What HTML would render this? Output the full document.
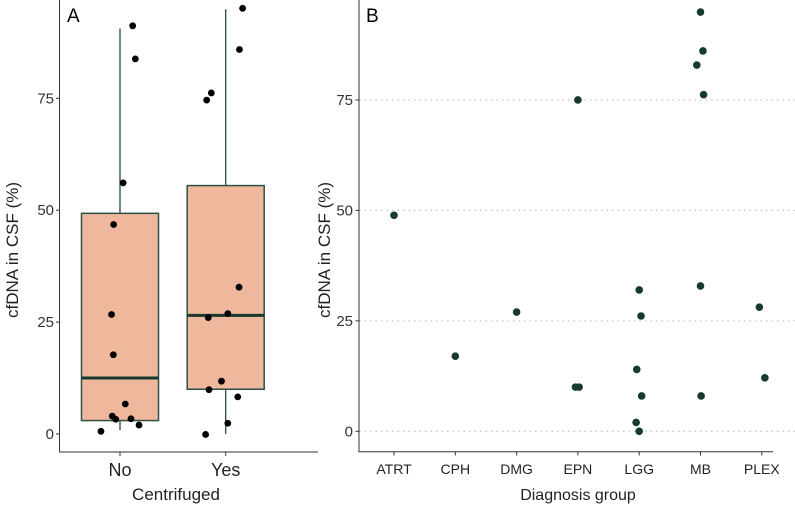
<!DOCTYPE html>
<html><head><meta charset="utf-8"><style>
body{margin:0;background:#fff}
svg{display:block;font-family:"Liberation Sans",sans-serif}
</style></head><body>
<svg id="chart" width="795" height="506" viewBox="0 0 795 506" xmlns="http://www.w3.org/2000/svg"></svg>
<script>
// Panel A data
const aCategories = ["No", "Yes"];
const aBoxQ1 = [3, 10];
const aBoxMedian = [12.5, 26.5];
const aBoxQ3 = [49.3, 55.5];
const aWhiskerLow = [0.9, 0];
const aWhiskerHigh = [90.6, 94.9];
const aNoValues = [91.2, 83.8, 56.1, 46.8, 26.7, 17.7, 6.7, 4, 3.3, 3.4, 2, 0.6];
const aNoJitter = [0.12, 0.145, 0.03, -0.06, -0.08, -0.063, 0.05, -0.073, -0.04, 0.104, 0.18, -0.18];
const aYesValues = [95.1, 85.9, 76.2, 74.6, 32.8, 26.9, 26, 11.8, 9.9, 8.3, 2.4, -0.1];
const aYesJitter = [0.16, 0.13, -0.136, -0.18, 0.126, 0.02, -0.165, -0.04, -0.158, 0.114, 0.02, -0.19];
const yTicks = [0, 25, 50, 75];
const yTickLabels = ["0", "25", "50", "75"];
// Panel B data
const bCategories = ["ATRT", "CPH", "DMG", "EPN", "LGG", "MB", "PLEX"];
const bPointCat = ["ATRT","CPH","DMG","EPN","EPN","EPN","LGG","LGG","LGG","LGG","LGG","LGG","MB","MB","MB","MB","MB","MB","PLEX","PLEX"];
const bPointValues = [48.9,17,27,75,10,10,32,26.1,14,8,2,0,94.9,86.1,82.9,76.2,32.9,8,28.1,12.1];
const bPointJitter = [0,0,0,0,-0.04,0.02,0,0.03,-0.04,0.04,-0.05,0,0,0.04,-0.06,0.05,0,0.01,-0.04,0.05];

const NS = "http://www.w3.org/2000/svg";
const svg = document.getElementById("chart");
function mk(tag, attrs, parent) {
  const e = document.createElementNS(NS, tag);
  for (const k in attrs) e.setAttribute(k, attrs[k]);
  (parent || svg).appendChild(e);
  return e;
}
// Axis functions
const yA = v => 434 - v * 4.476;
const xA = i => 120 + i * 105.7;
const yB = v => 431.3 - v * 4.418;
const xB = i => 394 + i * 61.3;

// ---- Panel A ----
const gA = mk("g", {});


const lblA = mk("text", {x: 67, y: 22, "font-size": 19, fill: "#000"}, gA);
lblA.textContent = "A";



aCategories.forEach((c, i) => {
  const cx = xA(i);
  const w = mk("line", {x1: cx, x2: cx, y1: yA(aWhiskerHigh[i]), y2: yA(aWhiskerLow[i]), stroke: "#2a4a40", "stroke-width": 1.3}, gA);
  
  
  const b = mk("rect", {x: cx - 38.5, y: yA(aBoxQ3[i]), width: 77, height: yA(aBoxQ1[i]) - yA(aBoxQ3[i]), fill: "#efb89c", stroke: "#2f4f47", "stroke-width": 1.5}, gA);
  
  
  const m = mk("line", {x1: cx - 38.5, x2: cx + 38.5, y1: yA(aBoxMedian[i]), y2: yA(aBoxMedian[i]), stroke: "#173a2e", "stroke-width": 3}, gA);
  
  
});
[[aNoValues, aNoJitter, 0], [aYesValues, aYesJitter, 1]].forEach(([vals, jit, ci]) => {
  vals.forEach((v, k) => {
    const p = mk("circle", {cx: xA(ci + jit[k]), cy: yA(v), r: 3.4, fill: "#000"}, gA);
    
    
  });
});
// axes A
const axA = mk("path", {d: "M59.5 0 V452 H318", fill: "none", stroke: "#333", "stroke-width": 1}, gA);


yTicks.forEach((t, k) => {
  const tk = mk("line", {x1: 56, x2: 59.5, y1: yA(t), y2: yA(t), stroke: "#333"}, gA);
  
  
  const tl = mk("text", {x: 54, y: yA(t) + 5, "text-anchor": "end", "font-size": 15, fill: "#333"}, gA);
  tl.textContent = yTickLabels[k];
  
  
});
aCategories.forEach((c, i) => {
  const tk = mk("line", {x1: xA(i), x2: xA(i), y1: 452, y2: 456, stroke: "#333"}, gA);
  
  
  const tl = mk("text", {x: xA(i), y: 476, "text-anchor": "middle", "font-size": 18, fill: "#222"}, gA);
  tl.textContent = c;
  
  
});
const xtA = mk("text", {x: 176, y: 500, "text-anchor": "middle", "font-size": 17, fill: "#222"}, gA);
xtA.textContent = "Centrifuged";


const ytA = mk("text", {x: 0, y: 0, "text-anchor": "middle", "font-size": 17, fill: "#222", transform: "translate(18,250) rotate(-90)"}, gA);
ytA.textContent = "cfDNA in CSF (%)";



// ---- Panel B ----
const gB = mk("g", {});


yTicks.forEach((t, k) => {
  const gl = mk("line", {x1: 359, x2: 795, y1: yB(t), y2: yB(t), stroke: "#c8c8c8", "stroke-width": 1.3, "stroke-dasharray": "1.5 4"}, gB);
  
  
  const tk = mk("line", {x1: 355.5, x2: 359, y1: yB(t), y2: yB(t), stroke: "#333"}, gB);
  
  
  const tl = mk("text", {x: 353, y: yB(t) + 5, "text-anchor": "end", "font-size": 15, fill: "#333"}, gB);
  tl.textContent = yTickLabels[k];
  
  
});
const lblB = mk("text", {x: 366, y: 22, "font-size": 19, fill: "#000"}, gB);
lblB.textContent = "B";


bPointValues.forEach((v, k) => {
  const ci = bCategories.indexOf(bPointCat[k]);
  const p = mk("circle", {cx: xB(ci + bPointJitter[k]), cy: yB(v), r: 3.8, fill: "#173a2e"}, gB);
  
  
});
const axB = mk("path", {d: "M359 0 V451.7 H773", fill: "none", stroke: "#333", "stroke-width": 1}, gB);


bCategories.forEach((c, i) => {
  const tk = mk("line", {x1: xB(i), x2: xB(i), y1: 451.7, y2: 455.5, stroke: "#333"}, gB);
  
  
  const tl = mk("text", {x: xB(i), y: 474, "text-anchor": "middle", "font-size": 14, fill: "#222"}, gB);
  tl.textContent = c;
  
  
});
const xtB = mk("text", {x: 578, y: 500, "text-anchor": "middle", "font-size": 16, fill: "#222"}, gB);
xtB.textContent = "Diagnosis group";


const ytB = mk("text", {x: 0, y: 0, "text-anchor": "middle", "font-size": 17, fill: "#222", transform: "translate(330,250) rotate(-90)"}, gB);
ytB.textContent = "cfDNA in CSF (%)";


</script>
</body></html>
